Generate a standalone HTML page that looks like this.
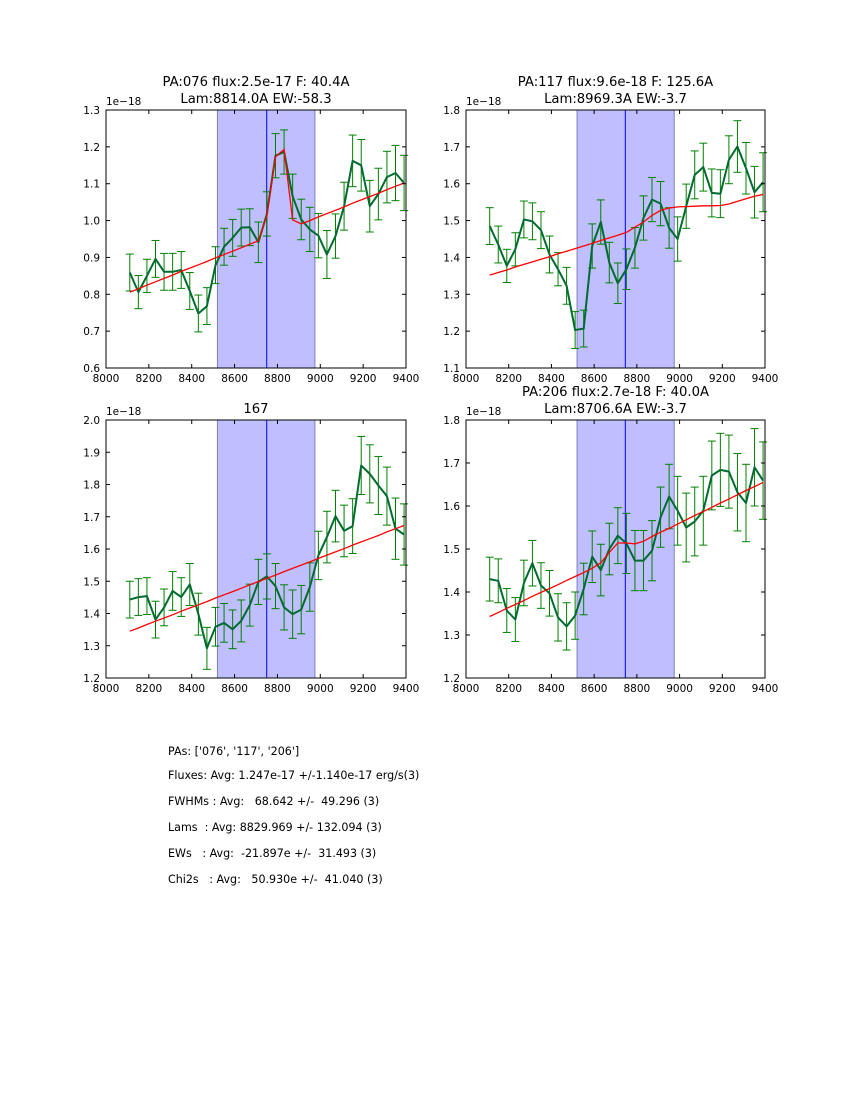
<!DOCTYPE html>
<html><head><meta charset="utf-8"><style>
html,body{margin:0;padding:0;background:#fff;}
svg{display:block;font-family:"DejaVu Sans","Liberation Sans",sans-serif;}
.stat{position:absolute;left:168px;font-family:"DejaVu Sans","Liberation Sans",sans-serif;font-size:11.1px;color:#000;white-space:pre;}
</style></head><body>
<div style="position:relative;width:850px;height:1100px;">
<svg id="fig" width="850" height="1100" viewBox="0 0 850 1100"></svg>
<div class="stat" style="top:745px">PAs: ['076', '117', '206']</div>
<div class="stat" style="top:769px">Fluxes: Avg: 1.247e-17 +/-1.140e-17 erg/s(3)</div>
<div class="stat" style="top:795px">FWHMs : Avg:   68.642 +/-  49.296 (3)</div>
<div class="stat" style="top:821px">Lams  : Avg: 8829.969 +/- 132.094 (3)</div>
<div class="stat" style="top:847px">EWs   : Avg:  -21.897e +/-  31.493 (3)</div>
<div class="stat" style="top:873px">Chi2s   : Avg:   50.930e +/-  41.040 (3)</div>
</div>
<script>
const wavelengths=[8111,8151,8191,8231,8271,8311,8351,8391,8431,8471,8511,8551,8591,8631,8671,8711,8751,8791,8831,8871,8911,8951,8991,9031,9071,9111,9151,9191,9231,9271,9311,9351,9391];
const xTicks=[8000,8200,8400,8600,8800,9000,9200,9400];
const bandRange=[8520,8975];
const lineCenter=[8750,8746,8750,8746];

const titles1=["PA:076 flux:2.5e-17 F: 40.4A","PA:117 flux:9.6e-18 F: 125.6A","167","PA:206 flux:2.7e-18 F: 40.0A"];
const titles2=["Lam:8814.0A EW:-58.3","Lam:8969.3A EW:-3.7","","Lam:8706.6A EW:-3.7"];

const yRange1=[0.6,1.3],yRange2=[1.1,1.8],yRange3=[1.2,2.0],yRange4=[1.2,1.8];

const flux1=[0.859,0.806,0.850,0.896,0.861,0.861,0.866,0.809,0.748,0.768,0.879,0.929,0.953,0.981,0.982,0.941,1.018,1.176,1.186,1.066,1.003,0.976,0.959,0.908,0.958,1.039,1.162,1.150,1.039,1.072,1.118,1.129,1.102];
const err1=[0.05,0.045,0.045,0.05,0.05,0.05,0.05,0.05,0.05,0.05,0.05,0.05,0.05,0.05,0.05,0.055,0.06,0.06,0.06,0.06,0.055,0.06,0.06,0.065,0.06,0.065,0.07,0.07,0.07,0.07,0.07,0.075,0.075];
const fit1=[0.806,0.815,0.825,0.834,0.843,0.852,0.862,0.871,0.880,0.889,0.899,0.908,0.917,0.926,0.936,0.945,1.014,1.173,1.193,1.002,0.991,1.000,1.010,1.019,1.028,1.037,1.047,1.056,1.065,1.074,1.084,1.093,1.102];

const flux2=[1.485,1.435,1.377,1.422,1.503,1.498,1.474,1.408,1.368,1.323,1.203,1.207,1.431,1.496,1.386,1.330,1.368,1.426,1.507,1.557,1.546,1.480,1.450,1.539,1.624,1.645,1.575,1.573,1.665,1.701,1.642,1.577,1.604];
const err2=[0.05,0.05,0.045,0.045,0.05,0.05,0.05,0.05,0.045,0.05,0.05,0.05,0.06,0.06,0.055,0.055,0.055,0.055,0.06,0.06,0.06,0.055,0.06,0.06,0.065,0.065,0.065,0.065,0.065,0.07,0.07,0.07,0.08];
const fit2=[1.352,1.359,1.366,1.374,1.381,1.388,1.395,1.402,1.410,1.417,1.424,1.431,1.438,1.446,1.453,1.460,1.468,1.482,1.496,1.514,1.528,1.534,1.537,1.538,1.539,1.540,1.540,1.541,1.545,1.552,1.559,1.566,1.571];

const flux3=[1.443,1.451,1.454,1.381,1.419,1.470,1.451,1.490,1.398,1.292,1.359,1.371,1.351,1.377,1.426,1.498,1.515,1.485,1.419,1.398,1.412,1.482,1.580,1.637,1.702,1.656,1.671,1.859,1.833,1.797,1.764,1.663,1.645];
const err3=[0.057,0.057,0.057,0.057,0.057,0.06,0.06,0.065,0.065,0.065,0.06,0.06,0.06,0.065,0.065,0.07,0.07,0.07,0.07,0.075,0.075,0.075,0.075,0.08,0.08,0.08,0.085,0.09,0.09,0.09,0.09,0.095,0.095];
const fit3=[1.345,1.355,1.366,1.376,1.386,1.396,1.407,1.417,1.427,1.437,1.448,1.458,1.468,1.478,1.489,1.499,1.509,1.519,1.530,1.540,1.550,1.560,1.571,1.581,1.591,1.601,1.612,1.622,1.632,1.642,1.653,1.663,1.673];

const flux4=[1.430,1.426,1.357,1.336,1.421,1.467,1.415,1.397,1.341,1.320,1.345,1.407,1.482,1.451,1.500,1.531,1.513,1.473,1.473,1.496,1.574,1.622,1.589,1.550,1.564,1.589,1.671,1.684,1.680,1.632,1.607,1.690,1.659];
const err4=[0.051,0.051,0.051,0.051,0.053,0.053,0.053,0.053,0.055,0.055,0.055,0.06,0.06,0.06,0.06,0.065,0.07,0.07,0.07,0.07,0.07,0.075,0.08,0.08,0.08,0.08,0.08,0.085,0.085,0.09,0.09,0.09,0.09];
const fit4=[1.343,1.352,1.362,1.371,1.380,1.390,1.399,1.408,1.417,1.427,1.436,1.445,1.455,1.468,1.492,1.514,1.514,1.512,1.518,1.529,1.539,1.548,1.558,1.568,1.578,1.587,1.597,1.607,1.616,1.626,1.636,1.645,1.655];

const NS="http://www.w3.org/2000/svg";
const svg=document.getElementById('fig');
function mk(tag,attrs,parent){const e=document.createElementNS(NS,tag);for(const k in attrs)e.setAttribute(k,attrs[k]);(parent||svg).appendChild(e);return e;}

const panels=[
 {x0:106,x1:406,y0:110,y1:368,yr:yRange1,flux:flux1,err:err1,fit:fit1},
 {x0:466,x1:765,y0:110,y1:368,yr:yRange2,flux:flux2,err:err2,fit:fit2},
 {x0:106,x1:406,y0:420,y1:678,yr:yRange3,flux:flux3,err:err3,fit:fit3},
 {x0:466,x1:765,y0:420,y1:678,yr:yRange4,flux:flux4,err:err4,fit:fit4}
];

panels.forEach((p,pi)=>{
 const g=mk('g',{});
 
 
 const sx=v=>p.x0+(v-8000)/1400*(p.x1-p.x0);
 const sy=v=>p.y1-(v-p.yr[0])/(p.yr[1]-p.yr[0])*(p.y1-p.y0);
 const band=mk('rect',{x:sx(bandRange[0]),y:p.y0,width:sx(bandRange[1])-sx(bandRange[0]),height:p.y1-p.y0,fill:'#bfbfff',stroke:'#7f7fbf','stroke-width':1},g);
 
 
 const vl=mk('line',{x1:sx(lineCenter[pi]),x2:sx(lineCenter[pi]),y1:p.y0,y2:p.y1,stroke:'#0000ff','stroke-width':1},g);
 
 
 const eg=mk('g',{stroke:'#008000','stroke-width':1},g);
 
 
 wavelengths.forEach((w,i)=>{
  const X=sx(w),top=Math.max(p.y0,sy(p.flux[i]+p.err[i])),bot=Math.min(p.y1,sy(p.flux[i]-p.err[i]));
  mk('line',{x1:X,x2:X,y1:top,y2:bot},eg);
  if(sy(p.flux[i]+p.err[i])>=p.y0) mk('line',{x1:X-4,x2:X+4,y1:top,y2:top},eg);
  if(sy(p.flux[i]-p.err[i])<=p.y1) mk('line',{x1:X-4,x2:X+4,y1:bot,y2:bot},eg);
 });
 const dpts=wavelengths.map((w,i)=>sx(w).toFixed(1)+','+sy(p.flux[i]).toFixed(1)).join(' ');
 const dl=mk('polyline',{points:dpts,fill:'none',stroke:'#006b2e','stroke-width':2,'stroke-linejoin':'round'},g);
 
 
 const fpts=wavelengths.map((w,i)=>sx(w).toFixed(1)+','+sy(p.fit[i]).toFixed(1)).join(' ');
 const fl=mk('polyline',{points:fpts,fill:'none',stroke:'#ff0000','stroke-width':1.3},g);
 
 
 const fr=mk('rect',{x:p.x0,y:p.y0,width:p.x1-p.x0,height:p.y1-p.y0,fill:'none',stroke:'#000','stroke-width':1},g);
 
 
 xTicks.forEach(t=>{
  const X=sx(t);
  mk('line',{x1:X,x2:X,y1:p.y1,y2:p.y1-4,stroke:'#000'},g);
  mk('line',{x1:X,x2:X,y1:p.y0,y2:p.y0+4,stroke:'#000'},g);
  const tx=mk('text',{x:X,y:p.y1+14,'text-anchor':'middle','font-size':10.5},g);
  tx.textContent=t;
  
  
 });
 const n=Math.round((p.yr[1]-p.yr[0])/0.1);
 for(let k=0;k<=n;k++){
  const v=p.yr[0]+k*0.1,Y=sy(v);
  mk('line',{x1:p.x0,x2:p.x0+4,y1:Y,y2:Y,stroke:'#000'},g);
  mk('line',{x1:p.x1,x2:p.x1-4,y1:Y,y2:Y,stroke:'#000'},g);
  const ty=mk('text',{x:p.x0-6,y:Y+4,'text-anchor':'end','font-size':10.5},g);
  ty.textContent=v.toFixed(1);
  
  
 }
 const off=mk('text',{x:p.x0,y:p.y0-5,'font-size':10.5},g);
 off.textContent='1e\u221218';
 
 
 const cx=(p.x0+p.x1)/2;
 if(titles2[pi]){
  const t1=mk('text',{x:cx,y:p.y0-24,'text-anchor':'middle','font-size':13.2},g);
  t1.textContent=titles1[pi];
  
  
  const t2=mk('text',{x:cx,y:p.y0-7,'text-anchor':'middle','font-size':13.2},g);
  t2.textContent=titles2[pi];
  
  
 } else {
  const t1=mk('text',{x:cx,y:p.y0-7,'text-anchor':'middle','font-size':13.2},g);
  t1.textContent=titles1[pi];
  
  
 }
});
</script>
</body></html>
